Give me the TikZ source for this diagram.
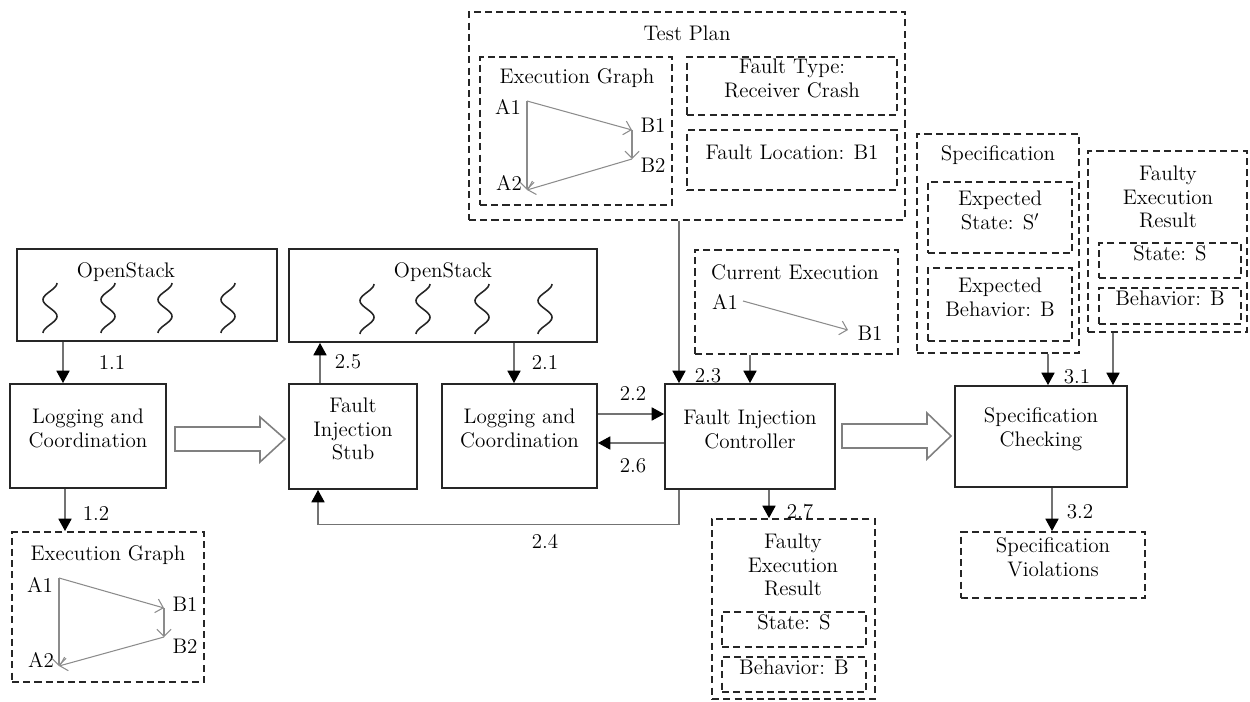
\documentclass[tikz,border=0pt]{standalone}
\usetikzlibrary{arrows.meta,fit,calc}
\begin{document}
\begin{tikzpicture}[x=0.02cm,y=-0.02cm,
  every node/.style={font=\fontsize{12}{13.5}\selectfont, text=black},
  sbox/.style={draw=black!85, line width=1.1pt, inner sep=0pt, align=center},
  dbox/.style={draw=black!85, line width=1.1pt, dash pattern=on 4pt off 2.4pt, inner sep=0pt, align=center},
  conn/.style={draw=black!55, line width=0.6pt, -{Triangle[width=7.5pt,length=7pt,color=black,fill=black]}},
  garr/.style={draw=black!45, line width=0.6pt, -{Straight Barb[length=4pt,width=8pt]}},
  hollow/.style={draw=black!50, line width=0.9pt},
  ttl/.style={inner sep=1pt, align=center},
  lbl/.style={inner sep=1pt},
  squig/.pic={\draw[line width=0.9pt, black!85] plot[smooth, domain=0:540, samples=37, variable=\t] ({7*cos(\t)}, {\t/540*50});}]
\useasboundingbox (0,0) rectangle (1250,702);

% ---------- solid boxes ----------
\node[sbox, fit={(17,249) (277,341)}] (os1) {};
\node[ttl] (os1t) at (126,272) {OpenStack};
\foreach \x in {50,108,165,228} \pic at (\x,283) {squig};

\node[sbox, fit={(289,249) (597,342)}] (os2) {};
\node[ttl] (os2t) at (443,272) {OpenStack};
\foreach \x in {367,423,482,545} \pic at (\x,284) {squig};

\node[sbox, fit={(10,384) (166,488)}] (log1) {Logging and\\Coordination};
\node[sbox, fit={(289,384) (417,489)}] (stub) {Fault\\Injection\\Stub};
\node[sbox, fit={(442,384) (597,488)}] (log2) {Logging and\\Coordination};
\node[sbox, fit={(665,384) (835,489)}] (fic) {Fault Injection\\Controller};
\node[sbox, fit={(955,386) (1127,487)}] (spc) {Specification\\Checking};

% ---------- test plan ----------
\node[dbox, fit={(469,12) (905,220)}] (tp) {};
\node[ttl] (tpt) at (687,33) {Test Plan};
\node[dbox, fit={(480,57) (672,205)}] (eg1) {};
\node[ttl] (eg1t) at (577,78) {Execution Graph};
\coordinate (e1a1) at (527,101);
\coordinate (e1b1) at (632,130);
\coordinate (e1b2) at (632,159);
\coordinate (e1a2) at (527,190);
\node[lbl] (e1a1l) at (508,107) {A1};
\node[lbl] (e1b1l) at (653,125) {B1};
\node[lbl] (e1b2l) at (653,165) {B2};
\node[lbl] (e1a2l) at (509,183) {A2};
\draw[garr] (e1a1) -- (e1b1);
\draw[garr] (e1b1) -- (e1b2);
\draw[garr] (e1b2) -- (e1a2);
\draw[garr] (e1a1) -- (e1a2);
\node[dbox, fit={(687,57) (897,115)}] (ft) {Fault Type:\\Receiver Crash};
\node[dbox, fit={(687,130) (897,190)}] (fl) {Fault Location: B1};

% ---------- current execution ----------
\node[dbox, fit={(695,250) (898,354)}] (ce) {};
\node[ttl] (cet) at (795,272) {Current Execution};
\coordinate (cea1) at (743,301);
\coordinate (ceb1) at (848,330);
\node[lbl] (cea1l) at (725,302) {A1};
\node[lbl] (ceb1l) at (870,333) {B1};
\draw[garr] (cea1) -- (ceb1);

% ---------- specification ----------
\node[dbox, fit={(917,134) (1079,353)}] (spec) {};
\node[ttl] (spect) at (998,155) {Specification};
\node[dbox, fit={(928,182) (1072,253)}] (es) {Expected\\State: S$'$};
\node[dbox, fit={(928,268) (1072,341)}] (eb) {Expected\\Behavior: B};

\node[dbox, fit={(1088,151) (1247,332)}] (fer1) {};
\node[ttl] (fer1t) at (1168,197) {Faulty\\Execution\\Result};
\node[dbox, fit={(1099,243) (1241,278)}] (ss1) {State: S};
\node[dbox, fit={(1099,288) (1241,324)}] (bb1) {Behavior: B};

% ---------- faulty execution result (bottom) ----------
\node[dbox, fit={(712,519) (875,699)}] (fer2) {};
\node[ttl] (fer2t) at (793,565) {Faulty\\Execution\\Result};
\node[dbox, fit={(722,612) (866,647)}] (ss2) {State: S};
\node[dbox, fit={(722,657) (866,692)}] (bb2) {Behavior: B};

\node[dbox, fit={(961,532) (1145,598)}] (sv) {Specification\\Violations};

% ---------- execution graph (left bottom) ----------
\node[dbox, fit={(12,532) (204,682)}] (eg2) {};
\node[ttl] (eg2t) at (108,555) {Execution Graph};
\coordinate (e2a1) at (59,578);
\coordinate (e2b1) at (164,608);
\coordinate (e2b2) at (164,637);
\coordinate (e2a2) at (59,666);
\node[lbl] (e2a1l) at (40,585) {A1};
\node[lbl] (e2b1l) at (185,604) {B1};
\node[lbl] (e2b2l) at (185,646) {B2};
\node[lbl] (e2a2l) at (41,660) {A2};
\draw[garr] (e2a1) -- (e2b1);
\draw[garr] (e2b1) -- (e2b2);
\draw[garr] (e2b2) -- (e2a2);
\draw[garr] (e2a1) -- (e2a2);

% ---------- hollow arrows ----------
\draw[hollow] (175,427) -- (260,427) -- (260,417) -- (285,439) -- (260,462) -- (260,451) -- (175,451) -- cycle;
\draw[hollow] (842,424) -- (927,424) -- (927,413) -- (951,436) -- (927,459) -- (927,448) -- (842,448) -- cycle;

% ---------- connectors ----------
\draw[conn] (os1.south -| 63,0) -- (log1.north -| 63,0);
\node[lbl] (l11) at (112,362) {1.1};
\draw[conn] (log1.south -| 65,0) -- (eg2.north -| 65,0);
\node[lbl] (l12) at (96,513) {1.2};
\draw[conn] (stub.north -| 320,0) -- (os2.south -| 320,0);
\node[lbl] (l25) at (348,362) {2.5};
\draw[conn] (os2.south -| 514,0) -- (log2.north -| 514,0);
\node[lbl] (l21) at (545,362) {2.1};
\draw[conn] (log2.east |- 0,414) -- (fic.west |- 0,414);
\node[lbl] (l22) at (633,393) {2.2};
\draw[conn] (fic.west |- 0,443) -- (log2.east |- 0,443);
\node[lbl] (l26) at (633,466) {2.6};
\draw[conn] (tp.south -| 679,0) -- (fic.north -| 679,0);
\node[lbl] (l23) at (708,376) {2.3};
\draw[conn] (ce.south -| 750,0) -- (fic.north -| 750,0);
\draw[conn] (fic.south -| 679,0) -- ++(0,35) -| (stub.south -| 318,0);
\node[lbl] (l24) at (545,541) {2.4};
\draw[conn] (fic.south -| 769,0) -- (fer2.north -| 769,0);
\node[lbl] (l27) at (800,512) {2.7};
\draw[conn] (spec.south -| 1048,0) -- (spc.north -| 1048,0);
\node[lbl] (l31) at (1077,377) {3.1};
\draw[conn] (fer1.south -| 1113,0) -- (spc.north -| 1113,0);
\draw[conn] (spc.south -| 1052,0) -- (sv.north -| 1052,0);
\node[lbl] (l32) at (1080,512) {3.2};
\end{tikzpicture}
\end{document}
